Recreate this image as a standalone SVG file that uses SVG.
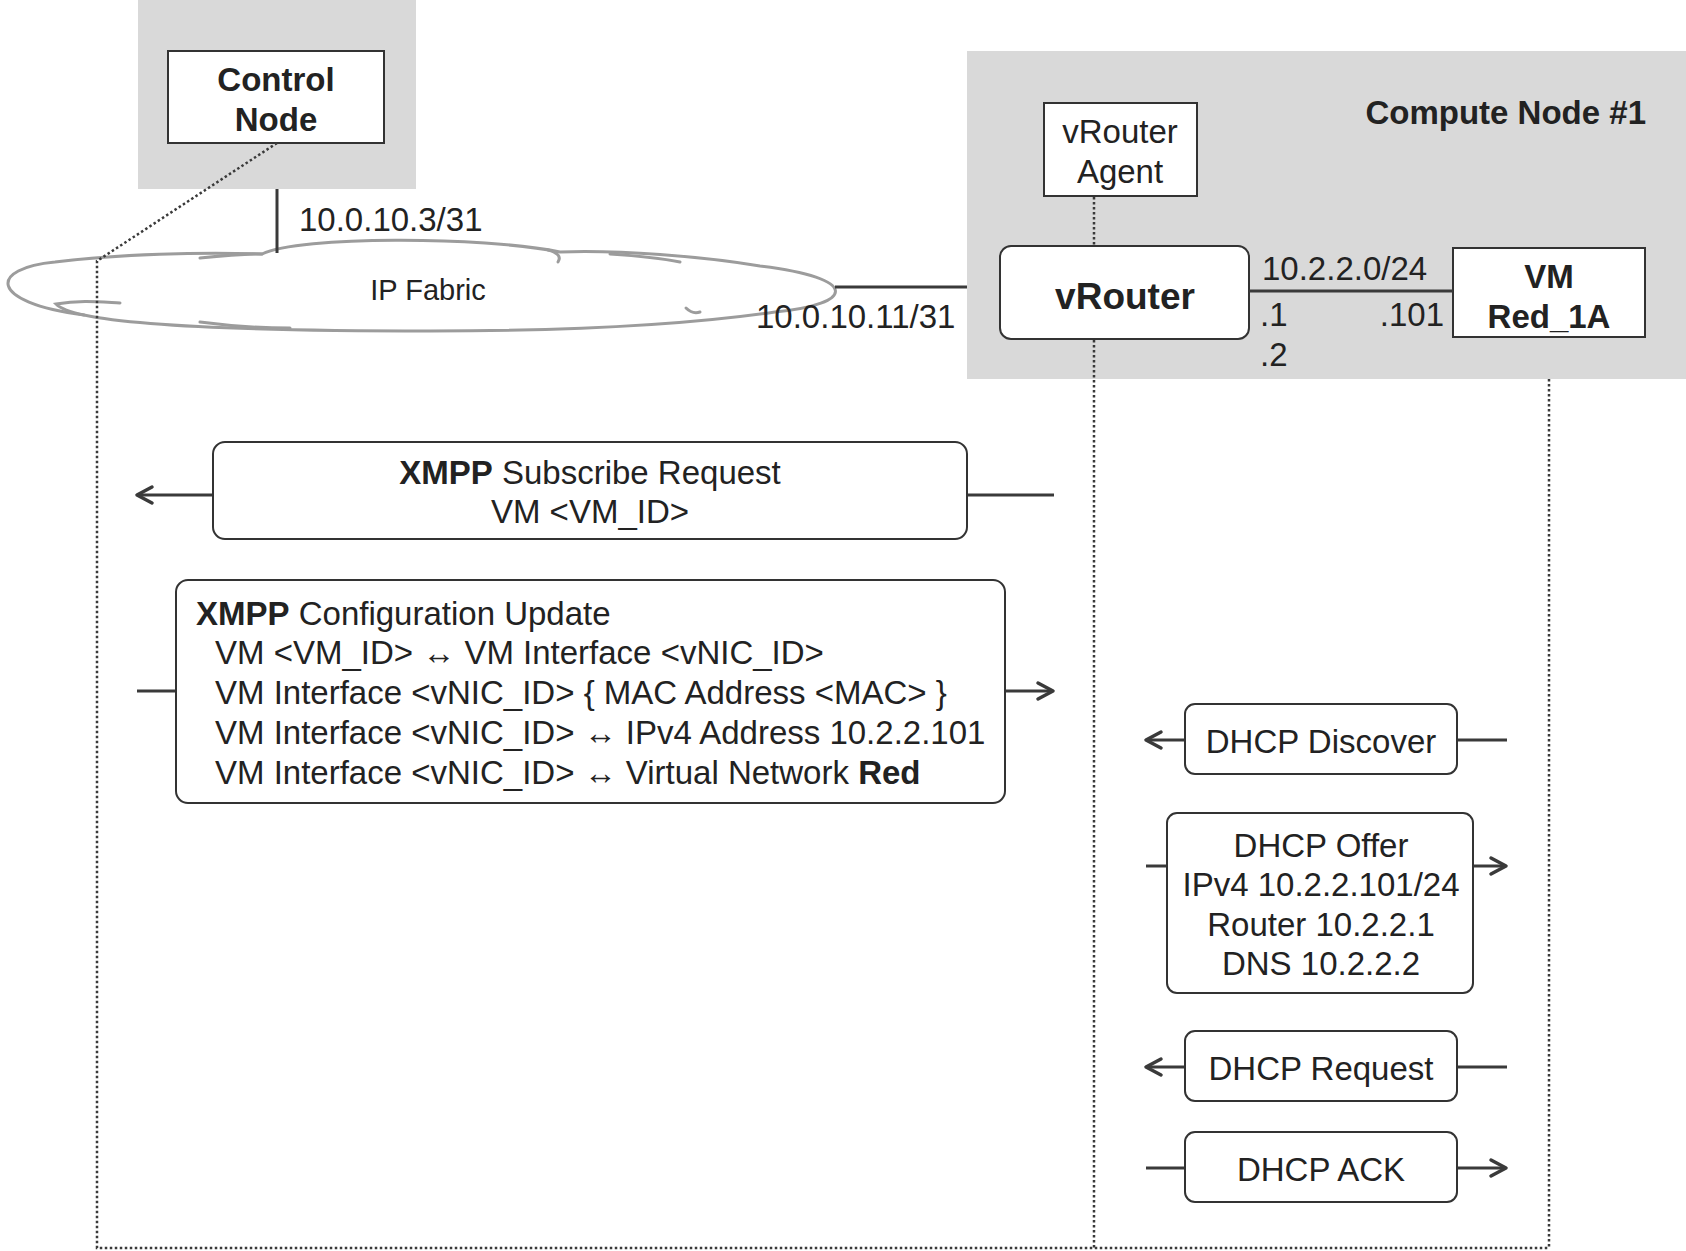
<svg xmlns="http://www.w3.org/2000/svg" width="1686" height="1251" viewBox="0 0 1686 1251">
<style>
text{font-family:"Liberation Sans",Arial,sans-serif;fill:#222;font-size:33px}
.b{font-weight:bold}
.c{text-anchor:middle}
.e{text-anchor:end}
.area{fill:#d9d9d9;stroke:none}
.box{fill:#fff;stroke:#333;stroke-width:2}
.msg{fill:#fff;stroke:#333;stroke-width:2}
.ln{fill:none;stroke:#3a3a3a;stroke-width:3}
.ah{fill:none;stroke:#3a3a3a;stroke-width:3.5;stroke-linecap:round;stroke-linejoin:round}
.dot{fill:none;stroke:#3a3a3a;stroke-width:2.5;stroke-dasharray:2.5 2.5}
.cloud{fill:#fff;stroke:#9c9c9c;stroke-width:3}
.cl{fill:none;stroke:#9c9c9c;stroke-width:3;stroke-linecap:round}
</style>

<g id="control-area"><rect class="area" x="138" y="0" width="278" height="189"/></g>
<g id="compute-area"><rect class="area" x="967" y="51" width="719" height="328"/>
<text class="b e" x="1646" y="124">Compute Node #1</text></g>

<g id="ip-fabric">
<path class="cloud" d="M55,262 C120,254 200,252 262,254 C300,236 480,236 560,252 C620,250 700,256 760,266 C860,278 856,304 775,312 C700,323 600,331 430,331 C280,331 140,327 84,315 C-14,302 -10,268 55,262 Z"/>
<path class="cl" d="M262,254 C240,254 220,256 200,258"/>
<path class="cl" d="M548,250 C556,252 562,256 558,262"/>
<path class="cl" d="M610,254 C640,256 660,258 680,262"/>
<path class="cl" d="M686,308 C690,312 694,314 700,312"/>
<path class="cl" d="M84,315 C70,312 60,308 56,304 C80,300 100,302 120,303"/>
<path class="cl" d="M200,322 C230,326 260,328 290,328"/>
<text class="c" x="428" y="300" style="font-size:29px">IP Fabric</text>
</g>

<g id="control-node">
<rect class="box" x="168" y="51" width="216" height="92"/>
<text class="b c" x="276" y="91">Control</text>
<text class="b c" x="276" y="131">Node</text>
</g>

<g id="vrouter-agent">
<rect class="box" x="1044" y="103" width="153" height="93"/>
<text class="c" x="1120" y="143">vRouter</text>
<text class="c" x="1120" y="183">Agent</text>
</g>

<g id="vrouter">
<rect class="box" x="1000" y="246" width="249" height="93" rx="11"/>
<text class="b c" x="1125" y="309" style="font-size:37px">vRouter</text>
</g>

<g id="vm">
<rect class="box" x="1453" y="248" width="192" height="89"/>
<text class="b c" x="1549" y="288">VM</text>
<text class="b c" x="1549" y="328">Red_1A</text>
</g>

<g id="connectors">
<line class="ln" x1="277" y1="189" x2="277" y2="253"/>
<line class="ln" x1="835" y1="287" x2="967" y2="287"/>
<line class="ln" x1="1249" y1="291" x2="1453" y2="291"/>
<line class="dot" x1="1094" y1="197" x2="1094" y2="246"/>
<line class="dot" x1="1094" y1="340" x2="1094" y2="1248"/>
<line class="dot" x1="1549" y1="379" x2="1549" y2="1248"/>
<polyline class="dot" points="277,143 97,261 97,1248 1549,1248"/>
</g>

<g id="labels">
<text x="299" y="231">10.0.10.3/31</text>
<text x="756" y="328">10.0.10.11/31</text>
<text x="1262" y="280">10.2.2.0/24</text>
<text x="1260" y="326">.1</text>
<text x="1260" y="366">.2</text>
<text class="e" x="1444" y="326">.101</text>
</g>

<g id="msg-xmpp-subscribe">
<line class="ln" x1="137" y1="495" x2="213" y2="495"/>
<polyline class="ah" points="152,487 137,495 152,503"/>
<line class="ln" x1="967" y1="495" x2="1054" y2="495"/>
<rect class="msg" x="213" y="442" width="754" height="97" rx="12"/>
<text class="c" x="590" y="484"><tspan class="b">XMPP</tspan> Subscribe Request</text>
<text class="c" x="590" y="523">VM &lt;VM_ID&gt;</text>
</g>

<g id="msg-xmpp-config">
<line class="ln" x1="137" y1="691" x2="176" y2="691"/>
<line class="ln" x1="1005" y1="691" x2="1053" y2="691"/>
<polyline class="ah" points="1038,683 1053,691 1038,699"/>
<rect class="msg" x="176" y="580" width="829" height="223" rx="12"/>
<text x="196" y="625"><tspan class="b">XMPP</tspan> Configuration Update</text>
<text x="215" y="664">VM &lt;VM_ID&gt; ↔ VM Interface &lt;vNIC_ID&gt;</text>
<text x="215" y="704">VM Interface &lt;vNIC_ID&gt; { MAC Address &lt;MAC&gt; }</text>
<text x="215" y="744">VM Interface &lt;vNIC_ID&gt; ↔ IPv4 Address 10.2.2.101</text>
<text x="215" y="784">VM Interface &lt;vNIC_ID&gt; ↔ Virtual Network <tspan class="b">Red</tspan></text>
</g>

<g id="msg-dhcp-discover">
<line class="ln" x1="1146" y1="740" x2="1185" y2="740"/>
<polyline class="ah" points="1161,732 1146,740 1161,748"/>
<line class="ln" x1="1457" y1="740" x2="1507" y2="740"/>
<rect class="msg" x="1185" y="704" width="272" height="70" rx="10"/>
<text class="c" x="1321" y="753">DHCP Discover</text>
</g>

<g id="msg-dhcp-offer">
<line class="ln" x1="1146" y1="866" x2="1167" y2="866"/>
<line class="ln" x1="1473" y1="866" x2="1506" y2="866"/>
<polyline class="ah" points="1491,858 1506,866 1491,874"/>
<rect class="msg" x="1167" y="813" width="306" height="180" rx="10"/>
<text class="c" x="1321" y="857">DHCP Offer</text>
<text class="c" x="1321" y="896">IPv4 10.2.2.101/24</text>
<text class="c" x="1321" y="936">Router 10.2.2.1</text>
<text class="c" x="1321" y="975">DNS 10.2.2.2</text>
</g>

<g id="msg-dhcp-request">
<line class="ln" x1="1146" y1="1067" x2="1185" y2="1067"/>
<polyline class="ah" points="1161,1059 1146,1067 1161,1075"/>
<line class="ln" x1="1457" y1="1067" x2="1507" y2="1067"/>
<rect class="msg" x="1185" y="1031" width="272" height="70" rx="10"/>
<text class="c" x="1321" y="1080">DHCP Request</text>
</g>

<g id="msg-dhcp-ack">
<line class="ln" x1="1146" y1="1168" x2="1185" y2="1168"/>
<line class="ln" x1="1457" y1="1168" x2="1506" y2="1168"/>
<polyline class="ah" points="1491,1160 1506,1168 1491,1176"/>
<rect class="msg" x="1185" y="1132" width="272" height="70" rx="10"/>
<text class="c" x="1321" y="1181">DHCP ACK</text>
</g>
</svg>
